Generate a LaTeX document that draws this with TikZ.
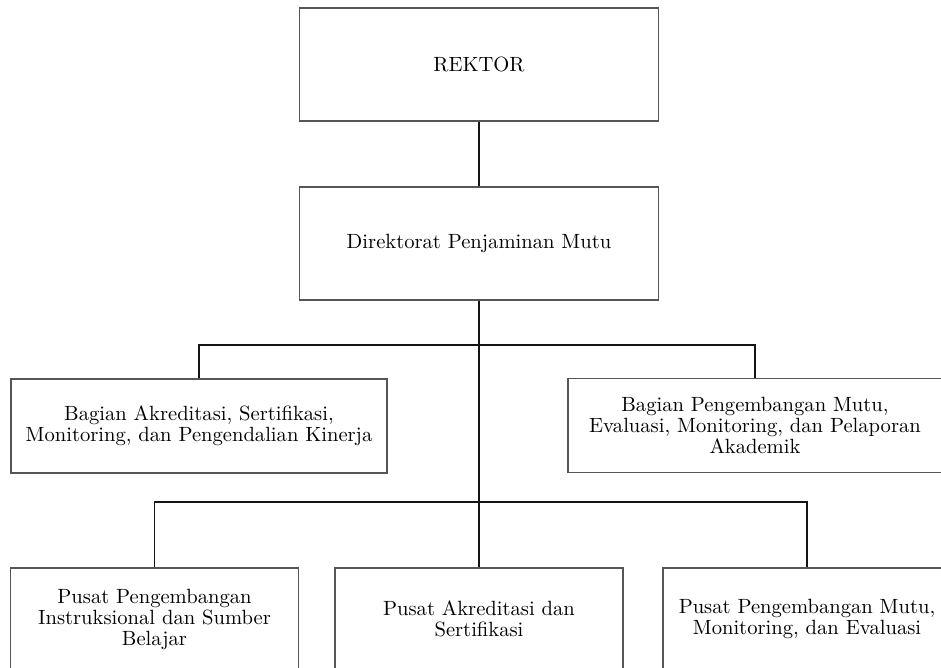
\documentclass[tikz,border=0pt]{standalone}
\usepackage{xcolor}
\usepackage{tikz}
\usetikzlibrary{positioning, calc}
\definecolor{boxgray}{RGB}{85, 85, 85}
\definecolor{linkblack}{RGB}{20, 20, 20}

\begin{document}
\begin{tikzpicture}[
  x=0.5pt, y=-0.5pt,
  unit/.style={draw=boxgray, line width=0.8pt, fill=white, align=center, font=\fontsize{10.3}{10.5}\selectfont, inner sep=0pt},
  topunit/.style={unit, minimum width=179.5pt, minimum height=56.5pt},
  midunit/.style={unit, minimum height=47pt},
  lowunit/.style={unit, minimum width=144pt, minimum height=51pt},
  link/.style={draw=linkblack, line width=0.9pt}
]
\useasboundingbox (0,0) rectangle (941,668);

% Pimpinan
\node[topunit] (rektor) at (479, 64.5) {REKTOR};
\node[topunit] (dirmutu) at (479, 243.5) {Direktorat Penjaminan Mutu};

% Bagian
\node[midunit, minimum width=188pt] (bagakr) at (199, 426) {Bagian Akreditasi, Sertifikasi,\\Monitoring, dan Pengendalian Kinerja};
\node[midunit, minimum width=187pt] (bagpeng) at (755, 425.5) {Bagian Pengembangan Mutu,\\Evaluasi, Monitoring, dan Pelaporan\\Akademik};

% Pusat
\node[lowunit] (pusinst) at (154.5, 619) {Pusat Pengembangan\\Instruksional dan Sumber\\Belajar};
\node[lowunit] (pusakr) at (479, 619) {Pusat Akreditasi dan\\Sertifikasi};
\node[lowunit] (pusmutu) at (807, 619) {Pusat Pengembangan Mutu,\\Monitoring, dan Evaluasi};

% Garis komando
\coordinate (bar1) at (479, 345);
\coordinate (bar2) at (479, 502);
\draw[link] (rektor.south) -- (dirmutu.north);
\draw[link] (dirmutu.south) -- (pusakr.north);
\draw[link] (bagakr.north) |- (bar1) -| (bagpeng.north);
\draw[link] (pusinst.north) |- (bar2) -| (pusmutu.north);

\end{tikzpicture}
\end{document}
